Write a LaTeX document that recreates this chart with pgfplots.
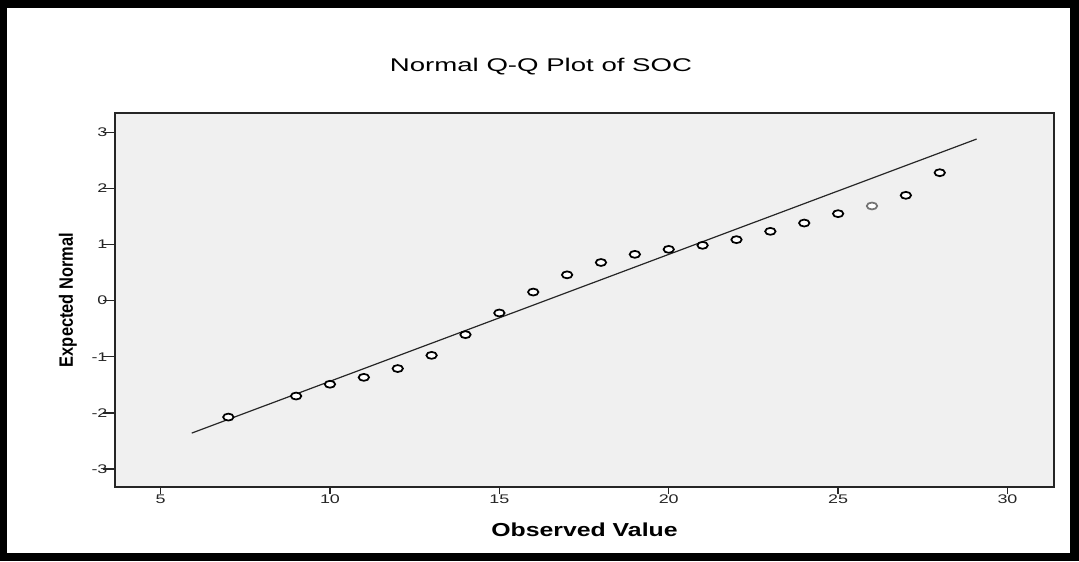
\documentclass[border=0pt]{standalone}
\usepackage{pgfplots}
\pgfplotsset{compat=1.18}
\usepackage{fontspec}
\usetikzlibrary{calc}
\setmainfont{Liberation Sans}
\newfontfamily\tickfont[FakeStretch=1.43]{Liberation Sans}
\newfontfamily\titlefont[FakeStretch=1.5]{Liberation Sans}
\newfontfamily\xlabfont[FakeStretch=1.32]{Liberation Sans}
\newfontfamily\ylabfont[FakeStretch=0.85]{Liberation Sans}
\definecolor{plotbg}{RGB}{240,240,240}
\begin{document}
\begin{tikzpicture}
\fill[black] (-86.25pt,-55.5pt) rectangle (723pt,365.25pt);
\fill[white] (-81pt,-49.5pt) rectangle (716.25pt,359.25pt);
\begin{axis}[
  at={(0,0)}, anchor=south west,
  scale only axis,
  width=704.25pt, height=280.5pt,
  xmin=3.654, xmax=31.373,
  ymin=-3.321, ymax=3.344,
  axis background/.style={fill=plotbg},
  axis line style={black!85, line width=1.1pt},
  tick align=outside,
  xtick pos=bottom, ytick pos=left,
  xtick={5,10,15,20,25,30},
  ytick={-3,-2,-1,0,1,2,3},
  yticklabels={{-3},{-2},{-1},0,1,2,3},
  xticklabels={5,10,15,20,25,30},
  xtick style={black!85, line width=1.1pt, /pgfplots/major tick length=5.25pt},
  ytick style={black!85, line width=1.1pt, /pgfplots/major tick length=9pt},
  tick label style={font=\tickfont\fontsize{9.4}{10}\selectfont, text=black!85},
  yticklabel style={inner sep=1.2pt},
  xticklabel style={inner sep=1.5pt},
  title={\titlefont\fontsize{13.8}{15}\selectfont Normal Q-Q Plot of SOC},
  title style={at={($(axis description cs:0,0)+(319.5pt,305.25pt)$)}, anchor=base},
  xlabel={\xlabfont\bfseries\fontsize{14.1}{16}\selectfont Observed Value},
  xlabel style={at={($(axis description cs:0.5,0)+(0pt,-36.75pt)$)}, anchor=base},
  ylabel={\ylabfont\bfseries\fontsize{14.5}{16}\selectfont Expected Normal},
  ylabel style={at={($(axis description cs:0,0.5)+(-31.5pt,0pt)$)}, anchor=base},
]
\addplot[black!85, line width=0.9pt, no marks] coordinates {(5.92,-2.36) (29.09,2.88)};
\addplot[only marks, mark=*, mark size=2.6pt,
  mark options={draw=black, fill=white, line width=1.3pt, xscale=1.5}]
  coordinates {
  (7,-2.075) (9,-1.70) (10,-1.49) (11,-1.367) (12,-1.21) (13,-0.975)
  (14,-0.606) (15,-0.22) (16,0.153) (17,0.46) (18,0.68) (19,0.825)
  (20,0.914) (21,0.986) (22,1.087) (23,1.235) (24,1.383) (25,1.55)
  (27,1.877) (28,2.28)
  };
\addplot[only marks, mark=*, mark size=2.6pt,
  mark options={draw=black!55, fill=white, line width=1.3pt, xscale=1.5}]
  coordinates {(26,1.687)};
\end{axis}
\end{tikzpicture}
\end{document}
